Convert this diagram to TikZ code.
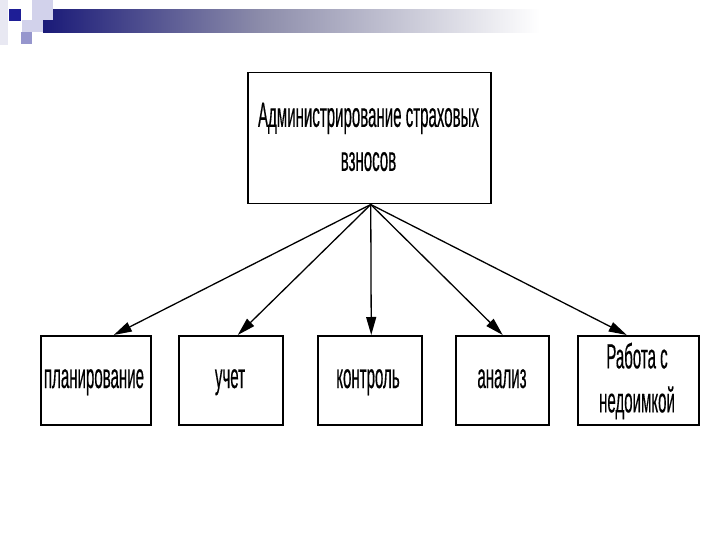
\documentclass[tikz,border=0pt]{standalone}
\usepackage{fontspec}
\setmainfont{Liberation Sans}[FakeStretch=0.43,FakeBold=0.3]
\usetikzlibrary{arrows.meta}
\definecolor{barnavy}{RGB}{26,26,120}
\definecolor{barmid}{RGB}{140,140,170}
\definecolor{sqdark}{RGB}{30,30,150}
\definecolor{sqmid}{RGB}{150,150,205}
\definecolor{sqpale}{RGB}{210,210,235}
\definecolor{sqfaint}{RGB}{232,232,242}
\tikzset{
  box/.style={draw=black, line width=1.5pt, inner sep=0pt, anchor=north west},
  lbl/.style={inner sep=0pt, font=\fontsize{35}{44}\selectfont, align=center},
  conn/.style={line width=1.3pt, -{Triangle[length=18pt,width=10pt]}},
}
\begin{document}
\begin{tikzpicture}[x=1pt,y=-1pt]
\useasboundingbox (0,0) rectangle (720,540);
\fill[white] (0,0) rectangle (720,540);
% decoration
\fill[sqfaint] (0,0) rectangle (8,45);
\shade[left color=barnavy, right color=barmid] (43,10) rectangle (260,33);
\shade[left color=barmid, right color=white] (260,10) rectangle (540,33);
\fill[sqpale] (32,0) rectangle (53,20);
\fill[sqpale] (22,20) rectangle (43,32);
\fill[sqmid] (21,32) rectangle (32,44);
\fill[sqdark] (9,9) rectangle (21,21);
% boxes
\node[box, minimum width=243pt, minimum height=131pt] (top) at (247,72) {};
\node[box, minimum width=110pt, minimum height=89pt] (p1) at (40,335) {};
\node[box, minimum width=104pt, minimum height=89pt] (p2) at (178,335) {};
\node[box, minimum width=104pt, minimum height=89pt] (p3) at (317,335) {};
\node[box, minimum width=93pt, minimum height=89pt] (p4) at (455,335) {};
\node[box, minimum width=121pt, minimum height=89pt] (p5) at (577,335) {};
% labels
\node[lbl] (ttop) at (368.5,137) {Администрирование страховых\\взносов};
\node[lbl, anchor=base] (t1) at (94,388) {планирование};
\node[lbl, anchor=base] (t2) at (230,388) {учет};
\node[lbl, anchor=base] (t3) at (368,388) {контроль};
\node[lbl, anchor=base] (t4) at (502,388) {анализ};
\node[lbl] (t5) at (637,381) {Работа с\\недоимкой};
% connectors
\coordinate (src) at ([xshift=1.5pt]top.south);
\draw[conn] (src) -- ([xshift=18pt]p1.north);
\draw[conn] (src) -- ([xshift=7pt]p2.north);
\draw[conn] (src) -- ([xshift=1.5pt]p3.north);
\draw[conn] (src) -- ([xshift=0.5pt]p4.north);
\draw[conn] (src) -- ([xshift=-11.5pt]p5.north);
\end{tikzpicture}
\end{document}
